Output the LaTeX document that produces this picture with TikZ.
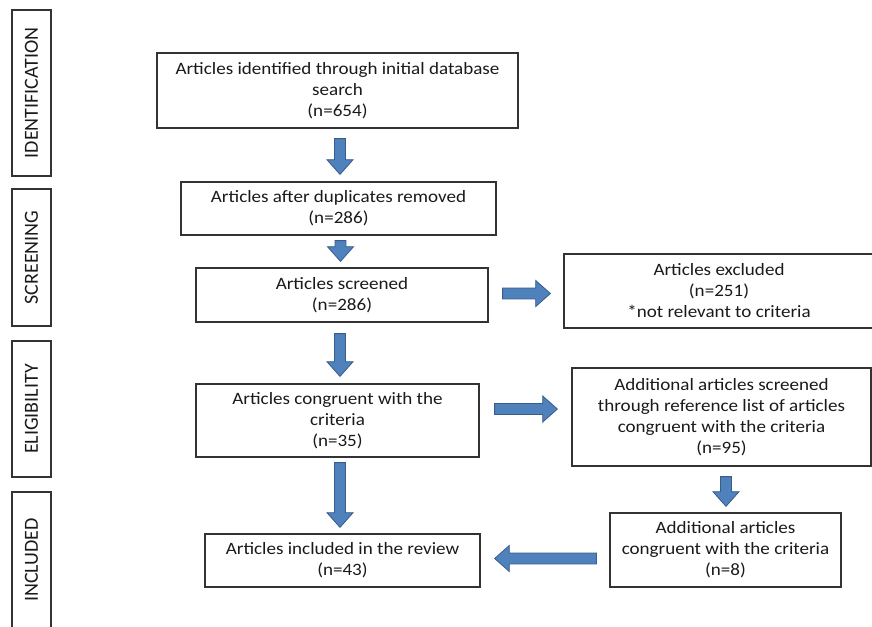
\documentclass[tikz,border=0pt]{standalone}
\usepackage{fontspec}
\setmainfont{Carlito}
\newfontfamily\boxfont[FakeStretch=1.1]{Carlito}
\usetikzlibrary{calc}
\definecolor{arrfill}{HTML}{4F81BD}
\definecolor{arrline}{HTML}{385D8A}
\definecolor{boxline}{HTML}{333333}
\definecolor{txt}{HTML}{1A1A1A}
\newcommand\fasw{4.1pt}
\newcommand\fahw{9.75pt}
\newcommand\fahl{11pt}
\newcommand\fatarrow[2]{%
  \coordinate (faA) at (#1);
  \coordinate (faB) at (#2);
  \coordinate (faN) at ($(faB)!\fahl!(faA)$);
  \draw[fat] ($(faA)!\fasw!90:(faB)$) -- ($(faN)!\fasw!90:(faB)$) -- ($(faN)!\fahw!90:(faB)$) -- (faB)
    -- ($(faN)!\fahw!-90:(faB)$) -- ($(faN)!\fasw!-90:(faB)$) -- ($(faA)!\fasw!-90:(faB)$) -- cycle;}
\begin{document}
\begin{tikzpicture}[x=0.75pt,y=-0.75pt,
  box/.style={draw=boxline, line width=0.9pt, fill=white, align=center, inner sep=0pt,
    font=\boxfont\fontsize{13}{15.75}\selectfont, text=txt},
  side/.style={draw=boxline, line width=0.9pt, inner sep=0pt, rotate=90,
    font=\fontsize{15}{17}\selectfont, text=txt},
  fat/.style={fill=arrfill, draw=arrline, line width=0.6pt, line join=miter}]
\fill[white] (0,0) rectangle (872,626);
\useasboundingbox (0,0) rectangle (872,626);
% side labels
\node[side, minimum width=124.5pt, minimum height=29.25pt] (sid) at (31.5,93) {IDENTIFICATION};
\node[side, minimum width=102.75pt, minimum height=29.25pt] (sscr) at (31.5,257.5) {SCREENING};
\node[side, minimum width=102pt, minimum height=29.25pt] (selig) at (31.5,409) {ELIGIBILITY};
\node[side, minimum width=102pt, minimum height=29.25pt] (sincl) at (31.5,560) {INCLUDED};
% boxes
\node[box, minimum width=270.75pt, minimum height=56.25pt] (top) at (337.5,90.5)
  {Articles identified through initial database\\search\\(n=654)};
\node[box, minimum width=236.25pt, minimum height=39.75pt] (dup) at (338.5,208.5)
  {Articles after duplicates removed\\(n=286)};
\node[box, minimum width=219pt, minimum height=40.5pt] (scr) at (342,295)
  {Articles screened\\(n=286)};
\node[box, minimum width=232.5pt, minimum height=55.5pt] (excl) at (719,291)
  {Articles excluded\\(n=251)\\*not relevant to criteria};
\node[box, minimum width=212.25pt, minimum height=54.75pt] (cong) at (337.5,420.5)
  {Articles congruent with the\\criteria\\(n=35)};
\node[box, minimum width=224.25pt, minimum height=73.5pt] (add) at (721.5,417)
  {Additional articles screened\\through reference list of articles\\congruent with the criteria\\(n=95)};
\node[box, minimum width=173.25pt, minimum height=55.5pt] (add2) at (725.5,550)
  {Additional articles\\congruent with the criteria\\(n=8)};
\node[box, minimum width=206.25pt, minimum height=39.75pt] (incl) at (342.5,560.5)
  {Articles included in the review\\(n=43)};
% arrows
\fatarrow{$(top.south)+(2.5,10)$}{$(dup.north)+(1.5,-7)$}
\fatarrow{$(dup.south)+(2,5)$}{$(scr.north)+(-1.5,-6)$}
\fatarrow{$(scr.south)+(-2,11)$}{$(cong.north)+(2.5,-7)$}
\fatarrow{$(cong.south)+(2.5,5)$}{$(incl.north)+(-2.5,-6)$}
\fatarrow{$(scr.east)+(14,-1.5)$}{$(excl.west)+(-13,2.5)$}
\fatarrow{$(cong.east)+(15,-11.5)$}{$(add.west)+(-14,-8)$}
\fatarrow{$(add.south)+(4.5,10)$}{$(add2.north)+(0.5,-6)$}
\fatarrow{$(add2.west)+(-13,8.5)$}{$(incl.east)+(14,-2)$}
\end{tikzpicture}
\end{document}
